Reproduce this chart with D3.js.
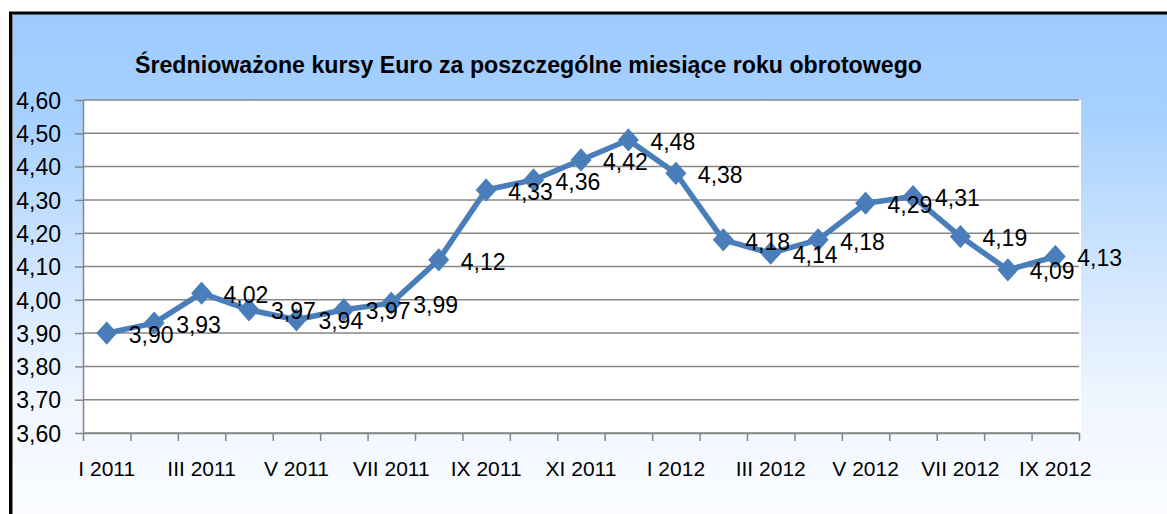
<!DOCTYPE html>
<html>
<head>
<meta charset="utf-8">
<script src="https://cdn.jsdelivr.net/npm/d3@7"></script>
<style>
  html, body { margin: 0; padding: 0; background: #fff; }
  svg { display: block; }
  text { font-family: "Liberation Sans", Arial, sans-serif; }
</style>
</head>
<body>
<svg id="chart" width="1167" height="514"></svg>
<script>
const title = "Średnioważone kursy Euro za poszczególne miesiące roku obrotowego";
const categories = ["I 2011","II 2011","III 2011","IV 2011","V 2011","VI 2011","VII 2011","VIII 2011","IX 2011","X 2011","XI 2011","XII 2011",
                    "I 2012","II 2012","III 2012","IV 2012","V 2012","VI 2012","VII 2012","VIII 2012","IX 2012"];
const values = [3.90,3.93,4.02,3.97,3.94,3.97,3.99,4.12,4.33,4.36,4.42,4.48,4.38,4.18,4.14,4.18,4.29,4.31,4.19,4.09,4.13];
const yTicks = [3.60,3.70,3.80,3.90,4.00,4.10,4.20,4.30,4.40,4.50,4.60];
const shownLabels = ["I 2011","III 2011","V 2011","VII 2011","IX 2011","XI 2011","I 2012","III 2012","V 2012","VII 2012","IX 2012"];

const W = 1167, H = 514;
const plot = { left: 83, right: 1079, top: 100, bottom: 433 };
const svg = d3.select("#chart");
const pl = d3.formatLocale({ decimal: ",", thousands: " ", grouping: [3], currency: ["", " zł"] });
const fmt = pl.format(".2f");

// background gradient
const defs = svg.append("defs");
const grad = defs.append("linearGradient").attr("id","bg").attr("x1",0).attr("y1",0).attr("x2",0).attr("y2",1);
[[0,"#9DCBFF"],[0.2,"#A6D0FF"],[0.5,"#CFE5FF"],[0.78,"#F0F6FF"],[1,"#FAFCFF"]].forEach(s =>
  grad.append("stop").attr("offset", s[0]).attr("stop-color", s[1]));

svg.append("rect").attr("x", 11).attr("y", 13).attr("width", W - 11).attr("height", H - 13).attr("fill", "url(#bg)");
// outer border (black) and inner grey line
svg.append("line").attr("x1", 9).attr("x2", W).attr("y1", 13).attr("y2", 13).attr("stroke", "#000").attr("stroke-width", 3);
svg.append("line").attr("x1", 10.5).attr("x2", 10.5).attr("y1", 12).attr("y2", H).attr("stroke", "#000").attr("stroke-width", 3);
svg.append("line").attr("x1", 12.5).attr("x2", 12.5).attr("y1", 14.5).attr("y2", H).attr("stroke", "#808080").attr("stroke-width", 1);

// plot area
svg.append("rect").attr("x", plot.left).attr("y", plot.top).attr("width", plot.right - plot.left + 2).attr("height", plot.bottom - plot.top).attr("fill", "#fff");

const x = d3.scaleBand().domain(categories).range([plot.left, plot.right]).padding(0);
const xi = d3.scaleLinear().domain([0, categories.length]).range([plot.left, plot.right]);
const y = d3.scaleLinear().domain([3.6, 4.6]).range([plot.bottom, plot.top]);

// gridlines
svg.append("g").selectAll("line").data(yTicks).join("line")
  .attr("x1", plot.left).attr("x2", plot.right)
  .attr("y1", d => y(d)).attr("y2", d => y(d))
  .attr("stroke", "#868686").attr("stroke-width", 1.5);

// y axis
const yAxis = svg.append("g").attr("transform", `translate(${plot.left},0)`)
  .call(d3.axisLeft(y).tickValues(yTicks).tickFormat(fmt).tickSize(8).tickSizeOuter(0).tickPadding(14));
yAxis.select(".domain").attr("stroke", "#868686").attr("stroke-width", 1.5);
yAxis.selectAll(".tick line").attr("stroke", "#868686").attr("stroke-width", 1.5);
yAxis.selectAll("text").attr("font-size", 23).attr("fill", "#000").attr("font-family", "Liberation Sans, Arial, sans-serif").attr("dy", "0.36em");

// x axis ticks at category boundaries
const xTicks = svg.append("g").attr("transform", `translate(0,${plot.bottom})`)
  .call(d3.axisBottom(xi).tickValues(d3.range(categories.length + 1)).tickFormat("").tickSize(8).tickSizeOuter(0));
xTicks.select(".domain").attr("stroke", "#868686").attr("stroke-width", 1.5);
xTicks.selectAll(".tick line").attr("stroke", "#868686").attr("stroke-width", 1.5);

// x labels
const xLab = svg.append("g").attr("transform", `translate(0,${plot.bottom})`)
  .call(d3.axisBottom(x).tickValues(shownLabels).tickSize(0).tickPadding(28));
xLab.select(".domain").remove();
xLab.selectAll("text").attr("font-size", 21).attr("fill", "#000").attr("font-family", "Liberation Sans, Arial, sans-serif");

// line
const cx = d => x(d.c) + x.bandwidth() / 2;
const data = categories.map((c, i) => ({ c, v: values[i] }));
svg.append("path").datum(data)
  .attr("d", d3.line().x(cx).y(d => y(d.v)))
  .attr("fill", "none").attr("stroke", "#4A7EBB").attr("stroke-width", 5.5).attr("stroke-linejoin", "round");

// diamond markers
const diamond = (() => { const p = d3.path(); p.moveTo(0, -10.5); p.lineTo(9.5, 0); p.lineTo(0, 10.5); p.lineTo(-9.5, 0); p.closePath(); return p.toString(); })();
svg.append("g").selectAll("path").data(data).join("path")
  .attr("d", diamond)
  .attr("transform", d => `translate(${cx(d)},${y(d.v)})`)
  .attr("fill", "#4A7EBB").attr("stroke", "#4A7EBB").attr("stroke-width", 1.5);

// data labels
svg.append("g").selectAll("text").data(data).join("text")
  .attr("x", d => cx(d) + 22).attr("y", d => y(d.v)).attr("dy", "0.42em")
  .attr("font-size", 23).attr("fill", "#000")
  .text(d => fmt(d.v));

// title
svg.append("text").attr("x", 135).attr("y", 73)
  .attr("font-size", 23).attr("font-weight", "bold").attr("fill", "#000")
  .attr("textLength", 787).attr("lengthAdjust", "spacingAndGlyphs")
  .text(title);
</script>
</body>
</html>
